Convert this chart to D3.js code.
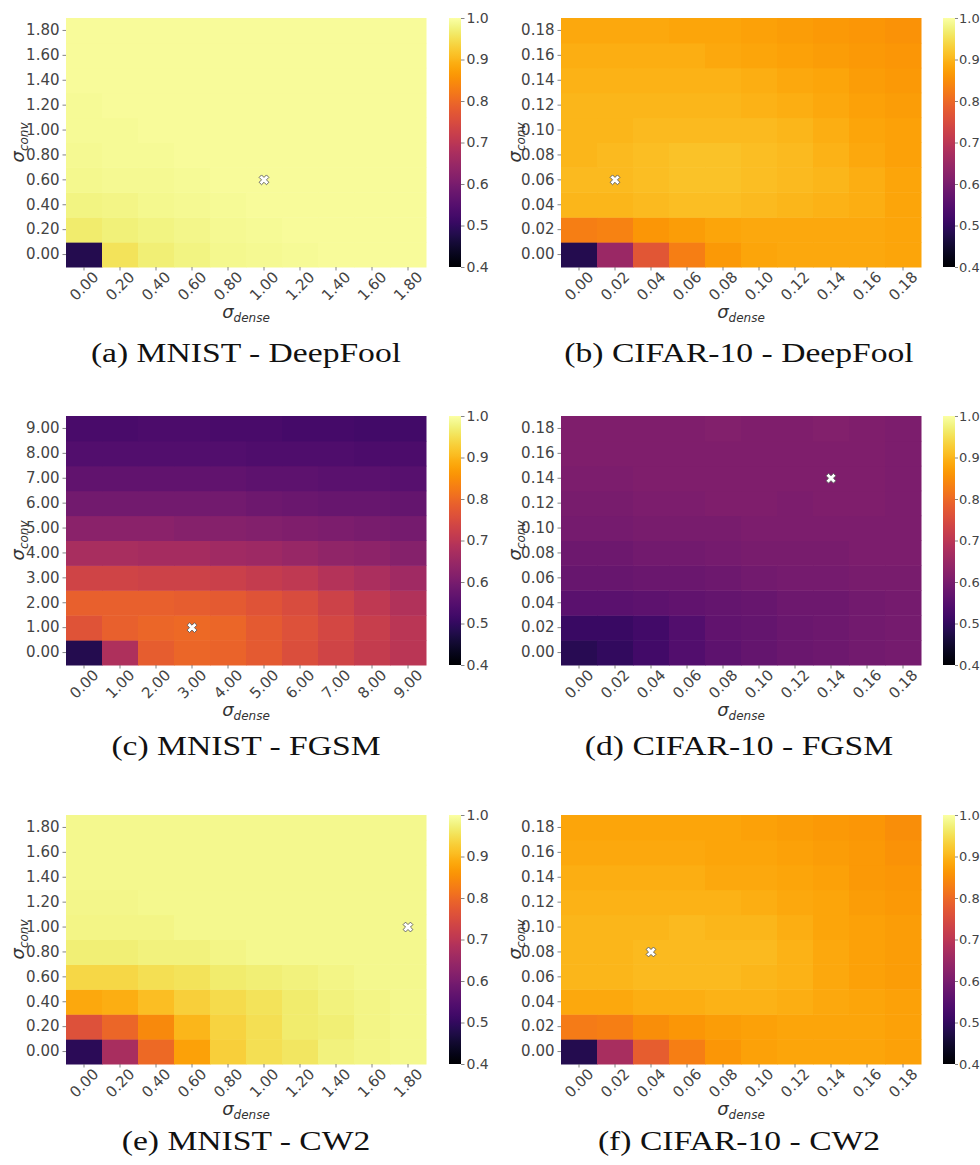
<!DOCTYPE html>
<html>
<head>
<meta charset="utf-8">
<script src="https://cdn.jsdelivr.net/npm/d3@7"></script>
<style>
  body { margin: 0; background: #fff; }
  svg { display: block; }
  .tick text { font-family: "DejaVu Sans", sans-serif; fill: #444; }
  .caption { font-family: "Liberation Serif", serif; fill: #111; }
</style>
</head>
<body>
<div id="app"></div>
<script>
// tick labels
const mnistTicks = ["0.00", "0.20", "0.40", "0.60", "0.80", "1.00", "1.20", "1.40", "1.60", "1.80"];
const cifarTicks = ["0.00", "0.02", "0.04", "0.06", "0.08", "0.10", "0.12", "0.14", "0.16", "0.18"];
const fgsmTicks = ["0.00", "1.00", "2.00", "3.00", "4.00", "5.00", "6.00", "7.00", "8.00", "9.00"];
const colorbarTicks = [0.4, 0.5, 0.6, 0.7, 0.8, 0.9, 1.0];

// values: one row per sigma_conv (bottom row first), one column per sigma_dense
const mnistDeepFool = [
  [0.48, 0.955, 0.970, 0.978, 0.984, 0.988, 0.990, 0.991, 0.992, 0.992],
  [0.965, 0.972, 0.978, 0.983, 0.987, 0.990, 0.991, 0.992, 0.992, 0.992],
  [0.978, 0.980, 0.984, 0.987, 0.990, 0.991, 0.992, 0.992, 0.992, 0.992],
  [0.985, 0.986, 0.988, 0.990, 0.991, 0.992, 0.992, 0.992, 0.992, 0.992],
  [0.988, 0.989, 0.990, 0.991, 0.992, 0.992, 0.992, 0.992, 0.992, 0.992],
  [0.990, 0.990, 0.991, 0.992, 0.992, 0.992, 0.992, 0.992, 0.992, 0.992],
  [0.990, 0.991, 0.991, 0.992, 0.992, 0.992, 0.992, 0.992, 0.992, 0.992],
  [0.991, 0.991, 0.992, 0.992, 0.992, 0.992, 0.992, 0.992, 0.992, 0.992],
  [0.991, 0.991, 0.992, 0.992, 0.992, 0.992, 0.992, 0.992, 0.992, 0.992],
  [0.991, 0.992, 0.992, 0.992, 0.992, 0.992, 0.992, 0.992, 0.992, 0.992]
];
const cifarDeepFool = [
  [0.48, 0.65, 0.77, 0.83, 0.865, 0.88, 0.885, 0.885, 0.885, 0.88],
  [0.83, 0.835, 0.86, 0.87, 0.88, 0.885, 0.885, 0.885, 0.885, 0.88],
  [0.90, 0.90, 0.905, 0.91, 0.91, 0.905, 0.90, 0.895, 0.89, 0.88],
  [0.905, 0.905, 0.91, 0.915, 0.915, 0.91, 0.905, 0.90, 0.89, 0.88],
  [0.90, 0.905, 0.91, 0.915, 0.915, 0.91, 0.905, 0.895, 0.885, 0.875],
  [0.90, 0.90, 0.905, 0.905, 0.905, 0.905, 0.90, 0.89, 0.88, 0.875],
  [0.90, 0.90, 0.90, 0.90, 0.90, 0.895, 0.89, 0.885, 0.875, 0.87],
  [0.895, 0.895, 0.895, 0.895, 0.895, 0.89, 0.885, 0.88, 0.87, 0.865],
  [0.89, 0.89, 0.89, 0.89, 0.885, 0.88, 0.875, 0.87, 0.865, 0.86],
  [0.885, 0.885, 0.885, 0.88, 0.88, 0.875, 0.87, 0.865, 0.86, 0.855]
];
const mnistFgsm = [
  [0.48, 0.68, 0.78, 0.795, 0.79, 0.775, 0.755, 0.735, 0.715, 0.70],
  [0.765, 0.785, 0.795, 0.80, 0.795, 0.775, 0.76, 0.74, 0.72, 0.70],
  [0.785, 0.785, 0.785, 0.78, 0.775, 0.765, 0.75, 0.73, 0.705, 0.685],
  [0.735, 0.735, 0.73, 0.73, 0.725, 0.715, 0.705, 0.69, 0.675, 0.66],
  [0.67, 0.67, 0.665, 0.665, 0.66, 0.655, 0.645, 0.635, 0.63, 0.62],
  [0.625, 0.625, 0.625, 0.62, 0.62, 0.615, 0.61, 0.605, 0.60, 0.595],
  [0.59, 0.59, 0.59, 0.59, 0.59, 0.585, 0.58, 0.575, 0.575, 0.57],
  [0.565, 0.565, 0.565, 0.565, 0.565, 0.56, 0.56, 0.555, 0.555, 0.55],
  [0.545, 0.545, 0.545, 0.545, 0.545, 0.54, 0.54, 0.54, 0.535, 0.535],
  [0.53, 0.53, 0.535, 0.535, 0.53, 0.53, 0.525, 0.525, 0.52, 0.52]
];
const cifarFgsm = [
  [0.485, 0.50, 0.52, 0.545, 0.56, 0.57, 0.58, 0.585, 0.59, 0.595],
  [0.51, 0.51, 0.52, 0.545, 0.565, 0.57, 0.58, 0.585, 0.59, 0.595],
  [0.555, 0.555, 0.56, 0.565, 0.57, 0.575, 0.585, 0.585, 0.59, 0.595],
  [0.575, 0.575, 0.58, 0.58, 0.585, 0.59, 0.595, 0.595, 0.60, 0.60],
  [0.585, 0.585, 0.59, 0.59, 0.595, 0.60, 0.60, 0.60, 0.605, 0.605],
  [0.595, 0.595, 0.60, 0.60, 0.60, 0.605, 0.605, 0.605, 0.605, 0.605],
  [0.60, 0.60, 0.605, 0.605, 0.61, 0.61, 0.605, 0.61, 0.61, 0.605],
  [0.605, 0.605, 0.61, 0.61, 0.61, 0.61, 0.61, 0.61, 0.61, 0.605],
  [0.61, 0.61, 0.61, 0.61, 0.61, 0.61, 0.61, 0.61, 0.61, 0.605],
  [0.61, 0.61, 0.61, 0.61, 0.615, 0.61, 0.61, 0.615, 0.61, 0.605]
];
const mnistCw2 = [
  [0.49, 0.67, 0.80, 0.875, 0.93, 0.95, 0.96, 0.975, 0.98, 0.985],
  [0.76, 0.795, 0.845, 0.90, 0.935, 0.95, 0.965, 0.97, 0.98, 0.985],
  [0.885, 0.89, 0.91, 0.93, 0.945, 0.955, 0.965, 0.975, 0.98, 0.985],
  [0.94, 0.94, 0.95, 0.955, 0.965, 0.97, 0.975, 0.98, 0.985, 0.985],
  [0.97, 0.97, 0.975, 0.975, 0.98, 0.985, 0.985, 0.985, 0.985, 0.985],
  [0.98, 0.98, 0.98, 0.985, 0.985, 0.985, 0.985, 0.985, 0.985, 0.985],
  [0.982, 0.982, 0.984, 0.985, 0.985, 0.985, 0.985, 0.985, 0.985, 0.985],
  [0.984, 0.984, 0.985, 0.985, 0.985, 0.985, 0.985, 0.985, 0.985, 0.985],
  [0.985, 0.985, 0.985, 0.985, 0.985, 0.985, 0.985, 0.985, 0.985, 0.985],
  [0.985, 0.985, 0.985, 0.985, 0.985, 0.985, 0.985, 0.985, 0.985, 0.985]
];
const cifarCw2 = [
  [0.48, 0.67, 0.78, 0.83, 0.86, 0.875, 0.88, 0.88, 0.88, 0.875],
  [0.825, 0.83, 0.85, 0.86, 0.87, 0.875, 0.88, 0.88, 0.88, 0.875],
  [0.885, 0.885, 0.89, 0.89, 0.895, 0.895, 0.89, 0.885, 0.88, 0.875],
  [0.90, 0.90, 0.905, 0.905, 0.905, 0.90, 0.895, 0.885, 0.875, 0.87],
  [0.90, 0.90, 0.905, 0.905, 0.905, 0.905, 0.895, 0.885, 0.875, 0.87],
  [0.90, 0.90, 0.90, 0.905, 0.90, 0.90, 0.89, 0.88, 0.875, 0.87],
  [0.895, 0.895, 0.895, 0.895, 0.895, 0.89, 0.885, 0.88, 0.87, 0.865],
  [0.89, 0.89, 0.89, 0.89, 0.885, 0.885, 0.88, 0.875, 0.865, 0.86],
  [0.885, 0.885, 0.885, 0.885, 0.88, 0.88, 0.875, 0.87, 0.865, 0.855],
  [0.88, 0.88, 0.88, 0.88, 0.88, 0.875, 0.87, 0.865, 0.86, 0.85]
];

// best setting marked with a cross: [dense index, conv index]
const bestPoints = [[5, 3], [1, 3], [3, 1], [7, 7], [9, 5], [2, 4]];
const captions = [
  "(a) MNIST - DeepFool", "(b) CIFAR-10 - DeepFool",
  "(c) MNIST - FGSM", "(d) CIFAR-10 - FGSM",
  "(e) MNIST - CW2", "(f) CIFAR-10 - CW2"
];

const panels = [
  { values: mnistDeepFool, ticks: mnistTicks },
  { values: cifarDeepFool, ticks: cifarTicks },
  { values: mnistFgsm, ticks: fgsmTicks },
  { values: cifarFgsm, ticks: cifarTicks },
  { values: mnistCw2, ticks: mnistTicks },
  { values: cifarCw2, ticks: cifarTicks }
].map((p, i) => ({ ...p, best: bestPoints[i], caption: captions[i], col: i % 2, row: Math.floor(i / 2) }));

const W = 980, H = 1165;
const colX = [66, 561];
const rowY = [18, 416, 815];
const captionY = [362, 755, 1150];
const plotW = 360, plotH = 249;

const svg = d3.select("#app").append("svg").attr("width", W).attr("height", H);

const color = d3.scaleSequential(d3.interpolateInferno).domain([0.4, 1.0]);

// shared gradient for the colour bars
const grad = svg.append("defs").append("linearGradient")
  .attr("id", "cbar").attr("x1", 0).attr("y1", 1).attr("x2", 0).attr("y2", 0);
d3.range(0, 1.0001, 0.02).forEach(t => {
  grad.append("stop").attr("offset", t).attr("stop-color", d3.interpolateInferno(t));
});

panels.forEach(p => {
  const g = svg.append("g").attr("transform", `translate(${colX[p.col]},${rowY[p.row]})`);

  const x = d3.scaleBand().domain(p.ticks).range([0, plotW]);
  const y = d3.scaleBand().domain(p.ticks).range([plotH, 0]);

  const cells = [];
  p.values.forEach((row, r) => row.forEach((v, c) => cells.push({ r, c, v })));

  g.selectAll("rect.cell")
    .data(cells)
    .enter()
    .append("rect")
    .attr("class", "cell")
    .attr("x", d => x(p.ticks[d.c]))
    .attr("y", d => y(p.ticks[d.r]))
    .attr("width", x.bandwidth() + 0.5)
    .attr("height", y.bandwidth() + 0.5)
    .attr("fill", d => color(d.v));

  // y axis
  const ya = g.append("g").call(d3.axisLeft(y).tickSize(3.5).tickPadding(3));
  ya.select(".domain").remove();
  ya.selectAll(".tick line").attr("stroke", "#666").attr("stroke-width", 0.8);
  ya.selectAll(".tick text").style("font-size", "15px");

  // x axis with rotated labels
  const xa = g.append("g").attr("transform", `translate(0,${plotH})`)
    .call(d3.axisBottom(x).tickSize(3.5).tickPadding(3));
  xa.select(".domain").remove();
  xa.selectAll(".tick line").attr("stroke", "#666").attr("stroke-width", 0.8);
  xa.selectAll(".tick text")
    .style("font-size", "15px")
    .attr("y", 0)
    .attr("dy", "0.35em")
    .attr("text-anchor", "middle")
    .attr("transform", "translate(0,19) rotate(-45)");

  // axis titles
  const yl = g.append("text")
    .attr("transform", `translate(${p.col === 0 ? -42 : -40},${plotH / 2}) rotate(-90)`)
    .attr("text-anchor", "middle")
    .style("font-family", "DejaVu Sans, sans-serif")
    .style("font-style", "italic")
    .attr("fill", "#333");
  yl.append("tspan").style("font-size", "18px").text("σ");
  yl.append("tspan").style("font-size", "12px").attr("dy", 4).text("conv");

  const xl = g.append("text")
    .attr("x", plotW / 2)
    .attr("y", plotH + 51)
    .attr("text-anchor", "middle")
    .style("font-family", "DejaVu Sans, sans-serif")
    .style("font-style", "italic")
    .attr("fill", "#333");
  xl.append("tspan").style("font-size", "18px").text("σ");
  xl.append("tspan").style("font-size", "12px").attr("dy", 4).text("dense");

  // best marker
  g.append("path")
    .attr("d", d3.symbol(d3.symbolCross, 60)())
    .attr("transform", `translate(${x(p.ticks[p.best[0]]) + x.bandwidth() / 2},${y(p.ticks[p.best[1]]) + y.bandwidth() / 2}) rotate(45)`)
    .attr("fill", "#fff")
    .attr("stroke", "#555")
    .attr("stroke-width", 0.8);

  // colour bar (right column sits close to the page edge)
  const right = p.col === 1;
  const cbX = right ? 382 : 383;
  const cs = d3.scaleLinear().domain([0.4, 1.0]).range([plotH, 0]);
  g.append("rect")
    .attr("x", cbX).attr("y", 0)
    .attr("width", 12).attr("height", plotH)
    .attr("fill", "url(#cbar)");
  const ca = g.append("g").attr("transform", `translate(${cbX + 12},0)`)
    .call(d3.axisRight(cs).tickValues(colorbarTicks).tickFormat(d3.format(".1f"))
      .tickSize(right ? 3 : 3.5).tickPadding(right ? 1 : 2));
  ca.select(".domain").remove();
  ca.selectAll(".tick line").attr("stroke", "#666").attr("stroke-width", 0.8);
  ca.selectAll(".tick text").style("font-size", right ? "13px" : "14px");

  // caption, stretched to the width of the original serif face
  const cap = svg.append("text")
    .attr("class", "caption")
    .attr("x", colX[p.col] + (p.col === 0 ? 180 : 178))
    .attr("y", captionY[p.row])
    .attr("text-anchor", "middle")
    .style("font-size", "28px")
    .text(p.caption);
  const natural = cap.node().getComputedTextLength();
  cap.attr("textLength", natural * 1.2).attr("lengthAdjust", "spacingAndGlyphs");
});
</script>
</body>
</html>
